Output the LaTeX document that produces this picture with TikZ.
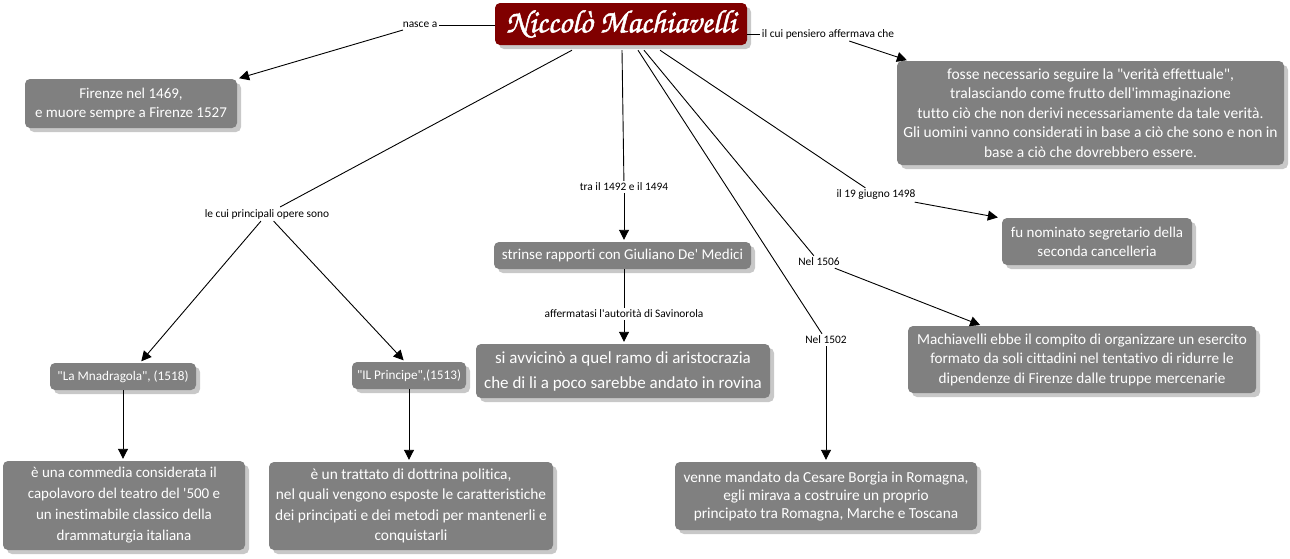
\documentclass[tikz,border=0pt]{standalone}
\usepackage{fontspec}
\setmainfont{Carlito}[Ligatures={TeXOff,NoCommon}]
\newfontfamily\titlefont[FakeBold=1.5]{texgyrechorus-mediumitalic.otf}
\usetikzlibrary{arrows.meta,shadows}
\definecolor{boxgrey}{HTML}{808080}
\definecolor{shadowgrey}{HTML}{C8C8C8}
\definecolor{titlered}{HTML}{800000}
\begin{document}
\begin{tikzpicture}[x=1pt,y=-1pt,
  box/.style={rounded corners=5pt, fill=boxgrey, text=white, align=center, inner sep=0pt,
    drop shadow={shadow xshift=4pt, shadow yshift=-4pt, fill=shadowgrey, opacity=1}},
  lbl/.style={font=\fontsize{11.4}{13}\selectfont, inner sep=2pt, text=black},
  conn/.style={line width=0.9pt, black},
  arr/.style={conn, -{Triangle[length=10pt,width=10pt]}, shorten >=2pt},
]
\useasboundingbox[fill=white] (0,0) rectangle (1290,558);

% main node
\node[box, fill=titlered, minimum width=252pt, minimum height=42pt,
  font=\titlefont\fontsize{32.5}{32.5}\selectfont] (main) at (621,24) {Niccolò Machiavelli};

% boxes
\node[box, minimum width=212pt, minimum height=49pt, font=\fontsize{15}{19}\selectfont]
  (fir) at (131,103.5) {Firenze nel 1469,\\ e muore sempre a Firenze 1527};
\node[box, minimum width=387pt, minimum height=104pt, font=\fontsize{15.5}{19.5}\selectfont]
  (pensbox) at (1090.5,113) {fosse necessario seguire la "verità effettuale",\\ tralasciando come frutto dell'immaginazione\\ tutto ciò che non derivi necessariamente da tale verità.\\ Gli uomini vanno considerati in base a ciò che sono e non in\\ base a ciò che dovrebbero essere.};
\node[box, minimum width=257pt, minimum height=27pt, font=\fontsize{15}{17}\selectfont]
  (strinse) at (622.5,255.5) {strinse rapporti con Giuliano De' Medici};
\node[box, minimum width=294pt, minimum height=54pt, font=\fontsize{17}{25}\selectfont]
  (avv) at (623,371) {si avvicinò a quel ramo di aristocrazia\\ che di li a poco sarebbe andato in rovina};
\node[box, minimum width=190pt, minimum height=47pt, font=\fontsize{15}{19}\selectfont]
  (nom) at (1097,241.5) {fu nominato segretario della\\ seconda cancelleria};
\node[box, minimum width=348pt, minimum height=67pt, font=\fontsize{15.2}{19.5}\selectfont]
  (mach) at (1082,359.5) {Machiavelli ebbe il compito di organizzare un esercito\\ formato da soli cittadini nel tentativo di ridurre le\\ dipendenze di Firenze dalle truppe mercenarie};
\node[box, minimum width=146pt, minimum height=27pt, font=\fontsize{13.2}{15}\selectfont]
  (mnad) at (123,376.5) {"La Mnadragola", (1518)};
\node[box, minimum width=114pt, minimum height=27pt, font=\fontsize{13.2}{15}\selectfont]
  (princ) at (409,375.5) {"IL Principe",(1513)};
\node[box, minimum width=242pt, minimum height=89pt, font=\fontsize{15}{21}\selectfont]
  (comm) at (124,505.5) {è una commedia considerata il\\ capolavoro del teatro del '500 e\\ un inestimabile classico della\\ drammaturgia italiana};
\node[box, minimum width=284pt, minimum height=88pt, font=\fontsize{15.4}{20.5}\selectfont]
  (tratt) at (411,506) {è un trattato di dottrina politica,\\ nel quali vengono esposte le caratteristiche\\ dei principati e dei metodi per mantenerli e\\ conquistarli};
\node[box, minimum width=302pt, minimum height=68pt, font=\fontsize{15.3}{18}\selectfont]
  (venne) at (826,496) {venne mandato da Cesare Borgia in Romagna,\\ egli mirava a costruire un proprio\\ principato tra Romagna, Marche e Toscana};

% labels
\node[lbl] (nasce) at (420,25) {nasce a};
\node[lbl] (pens) at (828,34) {il cui pensiero affermava che};
\node[lbl] (lecui) at (267,214) {le cui principali opere sono};
\node[lbl] (tra) at (624,187) {tra il 1492 e il 1494};
\node[lbl] (afferm) at (624,314) {affermatasi l'autorità di Savinorola};
\node[lbl] (n1502) at (826,340) {Nel 1502};
\node[lbl] (n1506) at (819,262) {Nel 1506};
\node[lbl] (giugno) at (876,195) {il 19 giugno 1498};

% connectors
\draw[conn] (main.west |- nasce) -- (nasce);
\draw[arr] (nasce) -- (fir.north east);
\draw[conn] (main.east |- pens) -- (pens);
\draw[arr] (pens) -- ([xshift=12pt]pensbox.north west);
\draw[conn] ([xshift=-49pt,yshift=-5pt]main.south) -- (lecui);
\draw[arr] (lecui) -- ([xshift=17pt]mnad.north);
\draw[arr] (lecui) -- ([xshift=-4pt]princ.north);
\draw[arr] (mnad.south) -- (mnad.south |- comm.north);
\draw[arr] (princ.south) -- (princ.south |- tratt.north);
\draw[conn] ([xshift=1pt,yshift=-5pt]main.south) -- (tra);
\draw[arr] (tra) -- (tra |- strinse.north);
\draw[conn] (afferm |- strinse.south) -- (afferm);
\draw[arr] (afferm) -- (afferm |- avv.north);
\draw[conn] ([xshift=17pt,yshift=-5pt]main.south) -- (n1502);
\draw[arr] (n1502) -- (venne.north);
\draw[conn] ([xshift=23pt,yshift=-5pt]main.south) -- (n1506);
\draw[arr] (n1506) -- ([xshift=-100pt]mach.north);
\draw[conn] ([xshift=39pt,yshift=-5pt]main.south) -- (giugno);
\draw[arr] (giugno) -- ([xshift=-2pt]nom.north west);
\end{tikzpicture}
\end{document}
